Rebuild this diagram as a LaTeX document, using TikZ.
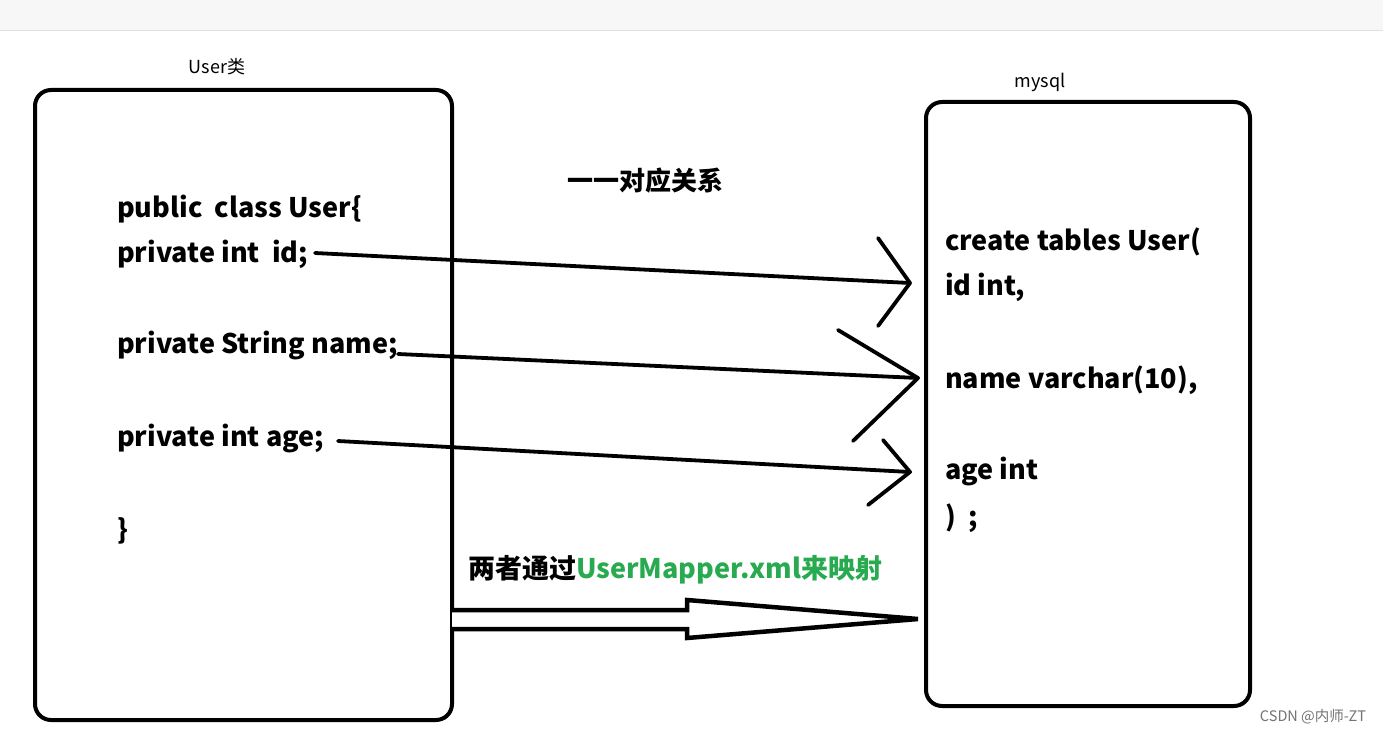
\documentclass[tikz,border=0pt]{standalone}
\usepackage{fontspec}
\setmainfont{Liberation Sans}
\newfontfamily\cjk{Noto Sans CJK SC}
\begin{document}
\begin{tikzpicture}[x=1pt,y=-1pt,
  box/.style={draw,line width=4pt,rounded corners=16pt},
  code/.style={anchor=west,inner sep=0pt,font=\cjk\fontsize{27}{30}\selectfont\bfseries},
  lbl/.style={inner sep=0pt,font=\cjk\fontsize{18}{20}\selectfont},
  link/.style={line width=3.8pt,line cap=round,line join=round}]
\useasboundingbox (0,0) rectangle (1383,733);
\fill[white] (0,0) rectangle (1383,733);
\fill[black!3] (0,0) rectangle (1383,30);
\draw[black!12] (0,30.5) -- (1383,30.5);
\draw[box] (35,90) rectangle (452,720);
\draw[box] (926,102) rectangle (1250,706);
\node[lbl] (ul) at (217,67) {User类};
\node[lbl] (ml) at (1040,82) {mysql};
\node[inner sep=0pt,font=\cjk\fontsize{26}{28}\selectfont\bfseries] (t) at (645,181) {一一对应关系};
\node[code] (a1) at (117,209) {public\ \ class User\{};
\node[code] (a2) at (117,254) {private int\ \ id;};
\node[code] (a3) at (117,346) {private String name;};
\node[code] (a4) at (117,439) {private int age;};
\node[code] (a5) at (117,531) {\}};
\node[code] (b1) at (945,242) {create tables User(};
\node[code] (b2) at (945,287) {id int,};
\node[code] (b3) at (945,380) {name varchar(10),};
\node[code] (b4) at (945,472) {age int};
\node[code] (b5) at (945,518) {)\ \ ;};
\node[anchor=west,inner sep=0pt,font=\cjk\fontsize{27}{30}\selectfont\bfseries] (m) at (468,570) {两者通过\textcolor[RGB]{40,170,80}{UserMapper.xml来映射}};
\node[inner sep=0pt,text=black!55,font=\cjk\fontsize{14.5}{16}\selectfont] (w) at (1313,717) {CSDN @内师-ZT};
\coordinate (s1) at (315,253); \coordinate (e1) at (910,283);
\coordinate (s2) at (398,354); \coordinate (e2) at (918,378);
\coordinate (s3) at (338,441); \coordinate (e3) at (910,472);
\draw[link] (s1) -- (e1); \draw[link] (878,238) -- (e1) -- (878,326);
\draw[link] (s2) -- (e2); \draw[link] (838,330) -- (e2) -- (853,441);
\draw[link] (s3) -- (e3); \draw[link] (883,440) -- (e3) -- (868,505);
\draw[line width=4.5pt,line join=miter,fill=white] (452,610) -- (687,610) -- (687,600) -- (918,619) -- (687,638) -- (687,629) -- (452,629);
\end{tikzpicture}
\end{document}
